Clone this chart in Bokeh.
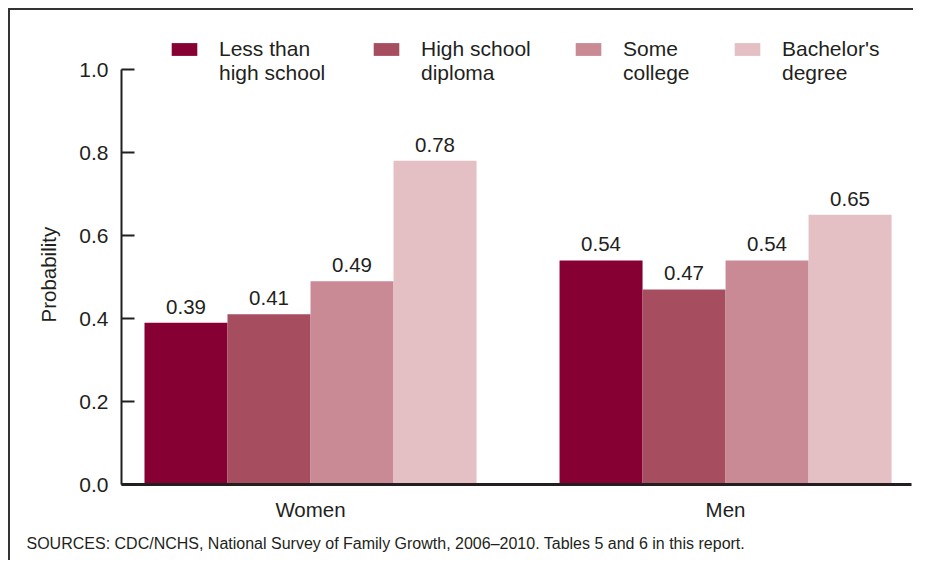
import math
from bokeh.plotting import figure
from bokeh.models import Range1d, FixedTicker, Legend, LegendItem, Title, PrintfTickFormatter, ColumnDataSource
from bokeh.embed import file_html
from bokeh.resources import INLINE
from bokeh.core.properties import value

# ---- data ----
groups = ["Women", "Men"]
series_line1 = ["Less than", "High school", "Some", "Bachelor's"]
series_line2 = ["high school", "diploma", "college", "degree"]
women = [0.39, 0.41, 0.49, 0.78]
men = [0.54, 0.47, 0.54, 0.65]
colors = ["#870033", "#A64D60", "#C98A96", "#E4BFC4"]
y_ticks = [0.0, 0.2, 0.4, 0.6, 0.8, 1.0]
y_label = "Probability"
source_note = "SOURCES: CDC/NCHS, National Survey of Family Growth, 2006\u20132010. Tables 5 and 6 in this report."

FONT = "Liberation Sans"
TXT = "#231F20"
BAR_W = 0.2

x_start, x_end = -0.4554, 1.448
y_end = 1.094
legend_x = [47, 249, 451, 610]   # screen offsets of legend columns within the frame
legend_y = 399

p = figure(width=905, height=552, output_backend="svg", toolbar_location=None,
           x_range=Range1d(x_start, x_end), y_range=Range1d(0, y_end),
           min_border_left=111, min_border_right=4, min_border_top=20, min_border_bottom=78)
p.styles = {"margin-left": "8px", "margin-top": "8px",
            "border-top": "2px solid #333333", "border-left": "2px solid #333333"}
p.outline_line_color = None
p.grid.visible = False
p.background_fill_color = "white"
p.border_fill_color = "white"

# invisible renderer used for the second line of each legend entry
blank = p.vbar(x=[], top=[], width=BAR_W, fill_alpha=0, line_alpha=0)

for si in range(len(series_line1)):
    vals = [women[si], men[si]]
    xs = [gi + (si - 1.5) * BAR_W for gi in range(len(groups))]
    src = ColumnDataSource(dict(x=xs, top=vals, lab=["%.2f" % v for v in vals]))
    r = p.vbar(x="x", top="top", bottom=0, width=BAR_W, source=src,
               fill_color=colors[si], line_color=None)
    p.text(x="x", y="top", text="lab", source=src, y_offset=-16,
           text_align="center", text_baseline="alphabetic",
           text_font=value(FONT), text_font_size="20.5px", text_color=TXT)
    lg = Legend(items=[LegendItem(label=series_line1[si], renderers=[r]),
                       LegendItem(label=series_line2[si], renderers=[blank])],
                orientation="vertical", location=(legend_x[si], legend_y),
                glyph_width=32, glyph_height=16, label_standoff=19, spacing=0,
                padding=0, margin=0, border_line_alpha=0, background_fill_alpha=0,
                label_text_font=FONT, label_text_font_size="21px", label_text_color=TXT)
    p.add_layout(lg, "center")

# axes
xa = p.xaxis[0]
xa.ticker = FixedTicker(ticks=list(range(len(groups))))
xa.major_label_overrides = {i: g for i, g in enumerate(groups)}
xa.major_tick_line_color = None
xa.minor_tick_line_color = None
xa.axis_line_width = 3
xa.axis_line_color = TXT
xa.major_label_standoff = 7
xa.major_label_text_font = FONT
xa.major_label_text_font_size = "20.5px"
xa.major_label_text_color = TXT

ya = p.yaxis[0]
ya.ticker = FixedTicker(ticks=y_ticks)
ya.formatter = PrintfTickFormatter(format="%.1f")
ya.bounds = (0, 1)
ya.major_tick_in = 13
ya.major_tick_out = 0
ya.major_tick_line_width = 2
ya.major_tick_line_color = TXT
ya.minor_tick_line_color = None
ya.axis_line_width = 2
ya.axis_line_color = TXT
ya.major_label_standoff = 13
ya.major_label_text_font = FONT
ya.major_label_text_font_size = "21px"
ya.major_label_text_color = TXT

p.add_layout(Title(text=y_label, align="left", offset=162, standoff=34,
                   text_font=FONT, text_font_size="20.5px", text_font_style="normal",
                   text_color=TXT), "left")
p.add_layout(Title(text=source_note, align="left", offset=-95, standoff=18,
                   text_font=FONT, text_font_size="16px", text_font_style="normal",
                   text_color=TXT), "below")

open("out.html", "w").write(file_html(p, INLINE))
